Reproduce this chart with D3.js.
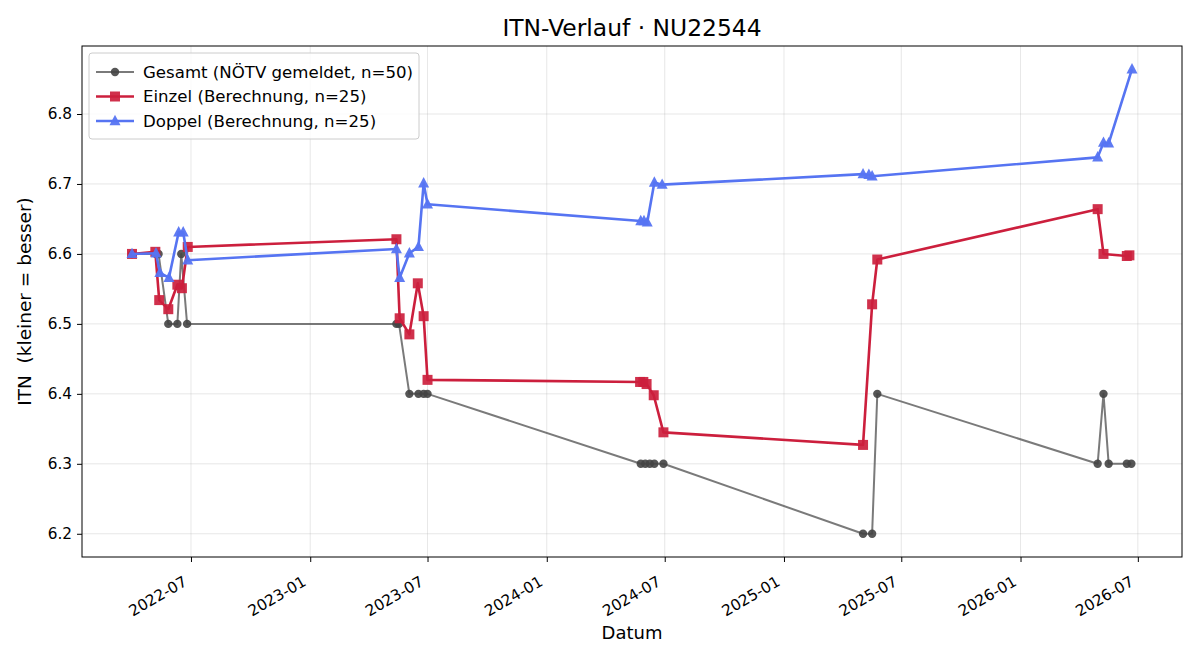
<!DOCTYPE html>
<html>
<head>
<meta charset="utf-8">
<script src="https://cdn.jsdelivr.net/npm/d3@7"></script>
<style>
  body { margin: 0; background: #fff; }
  svg { font-family: "DejaVu Sans", sans-serif; }
</style>
</head>
<body>
<svg id="drawing_region"></svg>
<script>
// ---- data ----
const gesamtDates = ["2022-04-01","2022-05-08","2022-05-12","2022-05-27","2022-06-10","2022-06-16","2022-06-25",
    "2023-05-14","2023-05-18","2023-06-03","2023-06-17","2023-06-25","2023-07-01",
    "2024-05-25","2024-06-01","2024-06-08","2024-06-15","2024-06-29",
    "2025-05-03","2025-05-17","2025-05-25",
    "2026-04-30","2026-05-09","2026-05-17","2026-06-14","2026-06-21"];
const gesamtValues = [6.6, 6.6, 6.6, 6.5, 6.5, 6.6, 6.5,
    6.5, 6.5, 6.4, 6.4, 6.4, 6.4,
    6.3, 6.3, 6.3, 6.3, 6.3,
    6.2, 6.2, 6.4,
    6.3, 6.4, 6.3, 6.3, 6.3];

const einzelDates = ["2022-04-01","2022-05-07","2022-05-13","2022-05-27","2022-06-10","2022-06-17","2022-06-26",
    "2023-05-14","2023-05-19","2023-06-03","2023-06-16","2023-06-25","2023-07-01",
    "2024-05-24","2024-05-29","2024-06-03","2024-06-14","2024-06-29",
    "2025-05-03","2025-05-17","2025-05-25",
    "2026-04-30","2026-05-09","2026-06-14","2026-06-18"];
const einzelValues = [6.600, 6.603, 6.534, 6.521, 6.556, 6.551, 6.610,
    6.621, 6.508, 6.485, 6.558, 6.511, 6.420,
    6.417, 6.417, 6.414, 6.398, 6.345,
    6.327, 6.528, 6.592,
    6.664, 6.600, 6.597, 6.598];

const doppelDates = ["2022-04-01","2022-05-08","2022-05-14","2022-05-28","2022-06-12","2022-06-19","2022-06-26",
    "2023-05-14","2023-05-19","2023-06-03","2023-06-17","2023-06-25","2023-07-01",
    "2024-05-25","2024-05-30","2024-06-04","2024-06-15","2024-06-27",
    "2025-05-03","2025-05-12","2025-05-17",
    "2026-04-30","2026-05-09","2026-05-17","2026-06-22"];
const doppelValues = [6.600, 6.601, 6.573, 6.566, 6.631, 6.631, 6.591,
    6.607, 6.566, 6.601, 6.610, 6.701, 6.671,
    6.647, 6.647, 6.645, 6.702, 6.699,
    6.714, 6.713, 6.711,
    6.738, 6.759, 6.758, 6.864];

const seriesNames = ["Gesamt (NÖTV gemeldet, n=50)", "Einzel (Berechnung, n=25)", "Doppel (Berechnung, n=25)"];
const xTickLabels = ["2022-07","2023-01","2023-07","2024-01","2024-07","2025-01","2025-07","2026-01","2026-07"];
const yTickValues = [6.2, 6.3, 6.4, 6.5, 6.6, 6.7, 6.8];

// ---- setup ----
const config = {
    width: 1200,
    height: 660,
    margin: {top: 46, right: 18, bottom: 103, left: 82}
};
const parse = d3.timeParse("%Y-%m-%d");
const parseMonth = d3.timeParse("%Y-%m");

const toPoints = (dates, values) => dates.map((d, i) => ({date: parse(d), value: values[i]}));
const series = [
    {name: seriesNames[0], data: toPoints(gesamtDates, gesamtValues), line: "rgba(85,85,85,0.78)", width: 2,
     marker: "circle", fill: "#444", mfill: 0.9, size: 4.2},
    {name: seriesNames[1], data: toPoints(einzelDates, einzelValues), line: "#cc1f3d", width: 2.6,
     marker: "square", fill: "#cc1f3d", mfill: 0.92, size: 10},
    {name: seriesNames[2], data: toPoints(doppelDates, doppelValues), line: "#5674f2", width: 2.6,
     marker: "triangle", fill: "#5674f2", mfill: 0.95, size: 11}
];

const svg = d3.select("#drawing_region")
    .attr("width", config.width)
    .attr("height", config.height);

const inner_width = config.width - config.margin.left - config.margin.right;
const inner_height = config.height - config.margin.top - config.margin.bottom;

const chart = svg.append("g")
    .attr("transform", `translate(${config.margin.left}, ${config.margin.top})`);

// matplotlib style 5% padding
const allPts = series.flatMap(s => s.data);
const [tmin, tmax] = d3.extent(allPts, d => d.date);
const tpad = (tmax - tmin) * 0.05;
const [vmin, vmax] = d3.extent(allPts, d => d.value);
const vpad = (vmax - vmin) * 0.05;

const xscale = d3.scaleTime()
    .domain([new Date(+tmin - tpad), new Date(+tmax + tpad)])
    .range([0, inner_width]);
const yscale = d3.scaleLinear()
    .domain([vmin - vpad, vmax + vpad])
    .range([inner_height, 0]);

const xTicks = xTickLabels.map(parseMonth);

// grid
chart.append("g").selectAll("line.gx")
    .data(xTicks).join("line")
    .attr("x1", d => xscale(d)).attr("x2", d => xscale(d))
    .attr("y1", 0).attr("y2", inner_height)
    .attr("stroke", "#b0b0b0").attr("stroke-opacity", 0.3).attr("stroke-width", 1);
chart.append("g").selectAll("line.gy")
    .data(yTickValues).join("line")
    .attr("x1", 0).attr("x2", inner_width)
    .attr("y1", d => yscale(d)).attr("y2", d => yscale(d))
    .attr("stroke", "#b0b0b0").attr("stroke-opacity", 0.3).attr("stroke-width", 1);

// axes
const xaxis = d3.axisBottom(xscale)
    .tickValues(xTicks)
    .tickFormat(d3.timeFormat("%Y-%m"))
    .tickSize(5)
    .tickSizeOuter(0);
const xaxis_group = chart.append("g")
    .attr("transform", `translate(0, ${inner_height})`)
    .call(xaxis);
xaxis_group.select(".domain").remove();
xaxis_group.selectAll("text")
    .attr("font-size", 15.3)
    .attr("font-family", "DejaVu Sans")
    .attr("fill", "#000")
    .attr("text-anchor", "end")
    .attr("dy", "0.73em")
    .attr("y", 0)
    .attr("transform", "translate(-9, 18) rotate(-30)");
xaxis_group.selectAll("line").attr("stroke", "#000");

const yaxis = d3.axisLeft(yscale)
    .tickValues(yTickValues)
    .tickFormat(d3.format(".1f"))
    .tickSize(5)
    .tickPadding(5)
    .tickSizeOuter(0);
const yaxis_group = chart.append("g").call(yaxis);
yaxis_group.select(".domain").remove();
yaxis_group.selectAll("text")
    .attr("font-size", 15.3)
    .attr("font-family", "DejaVu Sans")
    .attr("fill", "#000");
yaxis_group.selectAll("line").attr("stroke", "#000");

chart.append("rect")
    .attr("width", inner_width).attr("height", inner_height)
    .attr("fill", "none").attr("stroke", "#000").attr("stroke-width", 1);

// lines + markers
const line = d3.line().x(d => xscale(d.date)).y(d => yscale(d.value));

const symbolPath = (type, size) => {
    if (type === "square") return d3.symbol(d3.symbolSquare, size * size)();
    if (type === "triangle") {
        const h = size * 0.95, w = size;
        return `M0,${-h * 0.6}L${w / 2},${h * 0.4}L${-w / 2},${h * 0.4}Z`;
    }
    return d3.symbol(d3.symbolCircle, Math.PI * size * size)();
};

series.forEach(s => {
    chart.append("path")
        .datum(s.data)
        .attr("d", line)
        .attr("fill", "none")
        .attr("stroke", s.line)
        .attr("stroke-width", s.width)
        .attr("stroke-linejoin", "round");
    chart.append("g").selectAll("path")
        .data(s.data).join("path")
        .attr("d", symbolPath(s.marker, s.size))
        .attr("transform", d => `translate(${xscale(d.date)}, ${yscale(d.value)})`)
        .attr("fill", s.fill)
        .attr("fill-opacity", s.mfill);
});

// title and labels
svg.append("text")
    .attr("x", config.margin.left + inner_width / 2)
    .attr("y", 36)
    .attr("text-anchor", "middle")
    .attr("font-size", 23.4)
    .text("ITN-Verlauf · NU22544");

svg.append("text")
    .attr("x", config.margin.left + inner_width / 2)
    .attr("y", 639)
    .attr("text-anchor", "middle")
    .attr("font-size", 18)
    .text("Datum");

svg.append("text")
    .attr("transform", `translate(31, ${config.margin.top + inner_height / 2}) rotate(-90)`)
    .attr("text-anchor", "middle")
    .attr("font-size", 18.5)
    .style("white-space", "pre")
    .text("ITN  (kleiner = besser)");

// legend
const legend = svg.append("g").attr("transform", "translate(89, 53)");
legend.append("rect")
    .attr("width", 330).attr("height", 86)
    .attr("rx", 3)
    .attr("fill", "#fff").attr("fill-opacity", 0.8)
    .attr("stroke", "#cccccc");
series.forEach((s, i) => {
    const y = 19 + i * 24.5;
    legend.append("line")
        .attr("x1", 7).attr("x2", 45)
        .attr("y1", y).attr("y2", y)
        .attr("stroke", s.line).attr("stroke-width", s.width);
    legend.append("path")
        .attr("d", symbolPath(s.marker, s.size))
        .attr("transform", `translate(26, ${y})`)
        .attr("fill", s.fill).attr("fill-opacity", s.mfill);
    legend.append("text")
        .attr("x", 54).attr("y", y)
        .attr("dy", "0.35em")
        .attr("font-size", 16.6)
        .text(s.name);
});
</script>
</body>
</html>
